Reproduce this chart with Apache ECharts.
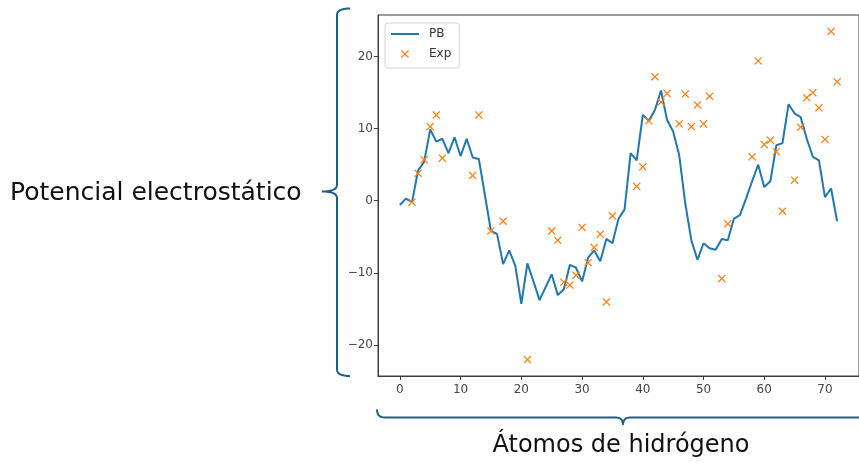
<!DOCTYPE html>
<html>
<head>
<meta charset="utf-8">
<script src="https://cdn.jsdelivr.net/npm/echarts@6/dist/echarts.min.js"></script>
<style>
html,body{margin:0;padding:0;background:#fff;}
#chart{width:859px;height:465px;}
</style>
</head>
<body>
<div id="chart"></div>
<script>
// PB values at hydrogen atom index 0..72
const pbValues = [
  -0.6, 0.3, -0.2, 4.2, 5.4, 9.9, 8.2, 8.6, 6.6, 8.8,
  6.2, 8.6, 6.0, 5.8, 0.8, -4.2, -4.6, -8.8, -6.9, -9.0,
  -14.3, -8.7, -11.2, -13.8, -12.0, -10.2, -13.1, -12.3, -8.9, -9.3,
  -11.2, -7.9, -6.9, -8.4, -5.3, -5.9, -2.5, -1.2, 6.6, 5.6,
  11.9, 11.1, 12.6, 15.3, 11.2, 9.6, 6.3, -0.4, -5.5, -8.2,
  -5.9, -6.6, -6.8, -5.3, -5.5, -2.5, -2.0, 0.3, 2.7, 5.0,
  1.9, 2.7, 7.7, 8.0, 13.4, 12.1, 11.6, 8.6, 6.1, 5.6,
  0.5, 1.7, -2.85
];
// Experimental points
const expX = [2, 3, 4, 5, 6, 7, 12, 13, 15, 17,
  21, 25, 26, 27, 28, 29, 30, 31, 32, 33,
  34, 35, 39, 40, 41, 42, 43, 44, 46, 47,
  48, 49, 50, 51, 53, 54, 58, 59, 60, 61,
  62, 63, 65, 66, 67, 68, 69, 70, 71, 72];
const expY = [-0.2, 3.8, 5.7, 10.3, 11.9, 5.9, 3.5, 11.9, -4.2, -2.85,
  -22.05, -4.2, -5.5, -11.3, -11.7, -10.35, -3.7, -8.6, -6.5, -4.65,
  -14.05, -2.1, 2.0, 4.7, 11.1, 17.2, 13.7, 14.9, 10.7, 14.8,
  10.3, 13.3, 10.7, 14.5, -10.8, -3.2, 6.1, 19.4, 7.8, 8.4,
  6.8, -1.45, 2.85, 10.2, 14.3, 15.0, 12.9, 8.5, 23.5, 16.5];
const xTicks = [0, 10, 20, 30, 40, 50, 60, 70];
const yTicks = [-20, -10, 0, 10, 20];
const seriesNames = ['PB', 'Exp'];
const yTitle = 'Potencial electrostático';
const xTitle = 'Átomos de hidrógeno';

const pbData = pbValues.map((v, i) => [i, v]);
const expData = expX.map((x, i) => [x, expY[i]]);

const xMark = 'path://M0,1.1 L1.1,0 L5,3.9 L8.9,0 L10,1.1 L6.1,5 L10,8.9 L8.9,10 L5,6.1 L1.1,10 L0,8.9 L3.9,5 Z';
const axisCol = '#3c3c3c';
const labCol = '#444';
const brace = '#1d5f86';

// helper: build polyline points from segments of lines / quadratic curves (decoration only)
function bracePoints(segs) {
  const pts = [];
  segs.forEach(s => {
    if (s.length === 2) { pts.push(s); }
    else {
      const [p0, c, p1] = s;
      for (let t = 0; t <= 1.0001; t += 0.125) {
        const a = (1 - t) * (1 - t), b = 2 * (1 - t) * t, d = t * t;
        pts.push([a * p0[0] + b * c[0] + d * p1[0], a * p0[1] + b * c[1] + d * p1[1]]);
      }
    }
  });
  return pts;
}
const leftBrace = bracePoints([
  [[350, 8.5], [337, 8.5], [337, 15]],
  [337, 185],
  [[337, 185], [337, 191.5], [322, 191.5]],
  [[322, 191.5], [337, 191.5], [337, 198]],
  [337, 369.5],
  [[337, 369.5], [337, 376], [350, 376]]
]);
const bottomBrace = bracePoints([
  [[377, 409.5], [377, 417.5], [385, 417.5]],
  [616, 417.5],
  [[616, 417.5], [623, 417.5], [623, 425]],
  [[623, 425], [623, 417.5], [630, 417.5]],
  [870, 417.5]
]);

const chart = echarts.init(document.getElementById('chart'));
chart.setOption({
  animation: false,
  backgroundColor: '#fff',
  grid: {
    left: 378, top: 15, width: 483, height: 361,
    show: true, borderColor: axisCol, borderWidth: 1, backgroundColor: 'transparent'
  },
  legend: {
    orient: 'vertical',
    left: 385, top: 23,
    padding: [5, 8, 8, 5],
    itemGap: 8,
    itemWidth: 28,
    itemHeight: 8,
    backgroundColor: 'rgba(255,255,255,0.85)',
    borderColor: '#d6d6d6',
    borderWidth: 1,
    borderRadius: 3,
    textStyle: { fontFamily: 'DejaVu Sans', fontSize: 12, color: '#333', padding: [0, 0, 0, 5] },
    data: [
      { name: seriesNames[0], itemStyle: { color: 'rgba(0,0,0,0)', borderWidth: 0, opacity: 0 } },
      { name: seriesNames[1], icon: xMark }
    ]
  },
  xAxis: {
    type: 'value',
    min: -3.6, max: 75.6,
    axisLine: { show: true, onZero: false, lineStyle: { color: axisCol, width: 1 } },
    axisTick: { show: true, length: 4, customValues: xTicks, lineStyle: { color: axisCol } },
    axisLabel: { customValues: xTicks, margin: 8, fontFamily: 'DejaVu Sans', fontSize: 12, color: labCol },
    splitLine: { show: false }
  },
  yAxis: {
    type: 'value',
    min: -24.33, max: 25.78,
    axisLine: { show: true, onZero: false, lineStyle: { color: axisCol, width: 1 } },
    axisTick: { show: true, length: 4, customValues: yTicks, lineStyle: { color: axisCol } },
    axisLabel: {
      customValues: yTicks, margin: 5, fontFamily: 'DejaVu Sans', fontSize: 12, color: labCol,
      formatter: v => String(v).replace('-', '\u2212')
    },
    splitLine: { show: false }
  },
  series: [
    {
      name: seriesNames[0],
      type: 'line',
      data: pbData,
      symbol: 'none',
      lineStyle: { color: '#1f77b4', width: 2 },
      itemStyle: { color: '#1f77b4' },
      z: 2
    },
    {
      name: seriesNames[1],
      type: 'scatter',
      data: expData,
      symbol: xMark,
      symbolSize: 8,
      itemStyle: { color: '#ff7f0e', opacity: 1 },
      z: 3
    }
  ],
  graphic: [
    {
      type: 'polyline',
      shape: { points: leftBrace },
      style: { fill: null, stroke: brace, lineWidth: 2 }
    },
    {
      type: 'polyline',
      shape: { points: bottomBrace },
      style: { fill: null, stroke: brace, lineWidth: 2 }
    },
    {
      type: 'text',
      x: 10, y: 193,
      style: { text: yTitle, font: '25px "DejaVu Sans"', fill: '#111', align: 'left', verticalAlign: 'middle' }
    },
    {
      type: 'text',
      x: 621, y: 446,
      style: { text: xTitle, font: '24px "DejaVu Sans"', fill: '#111', align: 'center', verticalAlign: 'middle' }
    }
  ]
});
</script>
</body>
</html>
